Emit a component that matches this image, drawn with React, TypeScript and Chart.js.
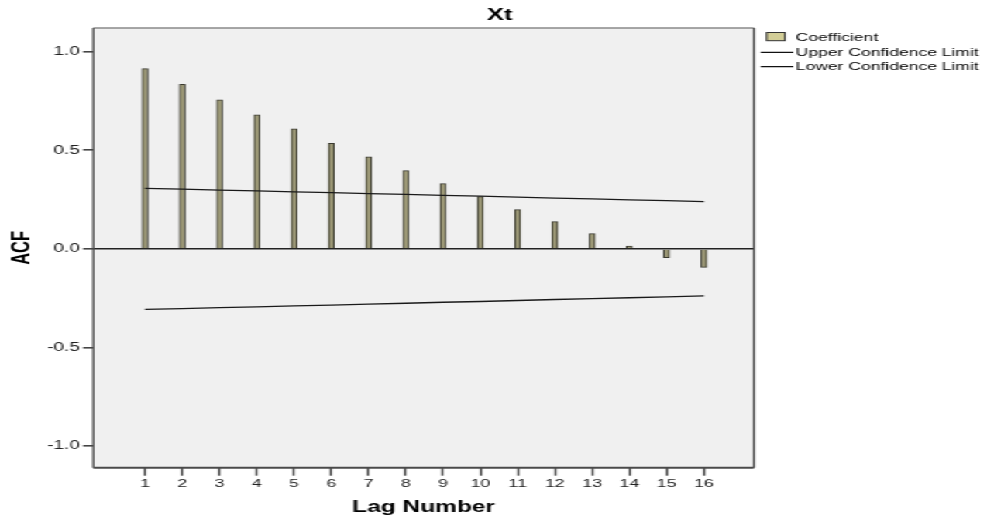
import { useEffect, useRef } from 'react';
import { Chart, registerables } from 'chart.js';

Chart.register(...registerables);

// ---- data ----
const lags = [1, 2, 3, 4, 5, 6, 7, 8, 9, 10, 11, 12, 13, 14, 15, 16];
const coefficient = [0.914, 0.834, 0.756, 0.68, 0.608, 0.535, 0.466, 0.397, 0.331, 0.265, 0.199, 0.138, 0.077, 0.014, -0.045, -0.094];
const upperLimit = [0.307, 0.303, 0.298, 0.294, 0.289, 0.285, 0.28, 0.276, 0.271, 0.267, 0.262, 0.257, 0.253, 0.248, 0.244, 0.239];
const lowerLimit = [-0.307, -0.303, -0.298, -0.294, -0.289, -0.285, -0.28, -0.276, -0.271, -0.267, -0.262, -0.257, -0.253, -0.248, -0.244, -0.239];
const yTickValues = [-1, -0.5, 0, 0.5, 1];
const seriesLabels = ['Coefficient', 'Upper Confidence Limit', 'Lower Confidence Limit'];
const chartTitle = 'Xt';
const xTitle = 'Lag Number';
const yTitle = 'ACF';

const FONT = '"Liberation Sans", Arial, Helvetica, sans-serif';
const W = 637;
const H = 521;
const SX = 987 / W;

export default function App() {
  const ref = useRef<HTMLCanvasElement | null>(null);

  useEffect(() => {
    const canvas = ref.current;
    if (!canvas) return;

    const overlay = {
      id: 'overlay',
      beforeDraw(chart: any) {
        const { ctx, chartArea: a } = chart;
        ctx.save();
        ctx.fillStyle = '#f0f0f0';
        ctx.fillRect(a.left, a.top, a.right - a.left, a.bottom - a.top);
        ctx.restore();
      },
      afterDraw(chart: any) {
        const { ctx, chartArea: a } = chart;
        ctx.save();
        // frame
        ctx.strokeStyle = '#8a8a8a';
        ctx.lineWidth = 1.5;
        ctx.beginPath();
        ctx.moveTo(a.left, a.top);
        ctx.lineTo(a.right, a.top);
        ctx.stroke();
        ctx.strokeStyle = '#4a4a4a';
        ctx.lineWidth = 2;
        ctx.beginPath();
        ctx.moveTo(a.left, a.bottom);
        ctx.lineTo(a.right, a.bottom);
        ctx.stroke();
        ctx.lineWidth = 1.3;
        ctx.beginPath();
        ctx.moveTo(a.left, a.top);
        ctx.lineTo(a.left, a.bottom);
        ctx.moveTo(a.right, a.top);
        ctx.lineTo(a.right, a.bottom);
        ctx.stroke();

        // title
        ctx.fillStyle = '#000';
        ctx.font = `bold 16.5px ${FONT}`;
        ctx.textAlign = 'center';
        ctx.textBaseline = 'middle';
        ctx.fillText(chartTitle, chart.width / 2 + 4, 15);

        // legend
        const lx = a.right;
        ctx.font = `11.3px ${FONT}`;
        ctx.textAlign = 'left';
        ctx.fillStyle = '#d3ce97';
        ctx.fillRect(lx + 8.2, 32.5, 11.8, 8.2);
        ctx.strokeStyle = '#333';
        ctx.lineWidth = 1;
        ctx.strokeRect(lx + 8.2, 32.5, 11.8, 8.2);
        ctx.strokeStyle = '#111';
        ctx.lineWidth = 1.2;
        ctx.beginPath();
        ctx.moveTo(lx + 4.3, 52.3);
        ctx.lineTo(lx + 25.4, 52.3);
        ctx.moveTo(lx + 4.3, 66.7);
        ctx.lineTo(lx + 25.4, 66.7);
        ctx.stroke();
        ctx.fillStyle = '#000';
        ctx.fillText(seriesLabels[0], lx + 27, 37.5);
        ctx.fillText(seriesLabels[1], lx + 27, 52.5);
        ctx.fillText(seriesLabels[2], lx + 27, 67);
        ctx.restore();
      },
    };

    const chart = new Chart(canvas, {
      type: 'bar',
      data: {
        datasets: [
          {
            type: 'line',
            label: seriesLabels[1],
            data: lags.map((x, i) => ({ x, y: upperLimit[i] })),
            borderColor: '#1a1a1a',
            borderWidth: 1.3,
            pointRadius: 0,
            fill: false,
            order: 0,
          } as any,
          {
            type: 'line',
            label: seriesLabels[2],
            data: lags.map((x, i) => ({ x, y: lowerLimit[i] })),
            borderColor: '#1a1a1a',
            borderWidth: 1.3,
            pointRadius: 0,
            fill: false,
            order: 0,
          } as any,
          {
            type: 'bar',
            label: seriesLabels[0],
            data: lags.map((x, i) => ({ x, y: coefficient[i] })),
            backgroundColor: '#9c9876',
            borderColor: '#3a3a30',
            borderWidth: 1,
            barThickness: 3.8,
            order: 1,
          } as any,
        ],
      },
      options: {
        responsive: false,
        animation: false,
        devicePixelRatio: 1,
        layout: { padding: { top: 28, right: W - 486.6, bottom: 0, left: 0 } },
        plugins: {
          legend: { display: false },
          title: { display: false },
          tooltip: { enabled: false },
        },
        scales: {
          x: {
            type: 'linear',
            min: -0.389,
            max: 17.343,
            offset: false,
            afterBuildTicks: (s: any) => {
              s.ticks = lags.map((v) => ({ value: v }));
            },
            afterFit: (s: any) => {
              s.height = H - 467.7;
            },
            ticks: {
              autoSkip: false,
              maxRotation: 0,
              padding: 1,
              color: '#222',
              font: { family: FONT, size: 11.5 },
              callback: (v: any) => String(v),
            },
            grid: {
              offset: false,
              drawOnChartArea: false,
              drawTicks: true,
              tickLength: 8,
              tickColor: '#444',
              tickWidth: 1.4,
            },
            border: { display: false },
            title: {
              display: true,
              text: xTitle,
              color: '#000',
              font: { family: FONT, size: 15.8, weight: 'bold' },
              padding: { top: 0, bottom: 4 },
            },
          },
          y: {
            min: -1.11,
            max: 1.12,
            afterBuildTicks: (s: any) => {
              s.ticks = yTickValues.map((v) => ({ value: v }));
            },
            afterFit: (s: any) => {
              s.width = 60.2;
            },
            ticks: {
              padding: 2,
              color: '#222',
              font: { family: FONT, size: 12.3 },
              callback: (v: any) => Number(v).toFixed(1),
            },
            grid: {
              drawOnChartArea: true,
              drawTicks: true,
              tickLength: 6.6,
              color: (c: any) => (c.tick && c.tick.value === 0 ? '#222' : 'rgba(0,0,0,0)'),
              lineWidth: 1.6,
              tickColor: '#444',
              tickWidth: 1.6,
            },
            border: { display: false },
            title: {
              display: true,
              text: yTitle,
              color: '#000',
              font: { family: FONT, size: 16.5, weight: 'bold' },
              padding: { top: 4.5, bottom: 0 },
            },
          },
        },
      } as any,
      plugins: [overlay],
    });

    return () => chart.destroy();
  }, []);

  return (
    <div
      style={{
        position: 'absolute',
        left: 0,
        top: 0,
        width: W,
        height: H,
        transform: `scaleX(${SX})`,
        transformOrigin: '0 0',
        background: '#fff',
      }}
    >
      <canvas ref={ref} width={W} height={H} style={{ display: 'block' }} />
    </div>
  );
}
